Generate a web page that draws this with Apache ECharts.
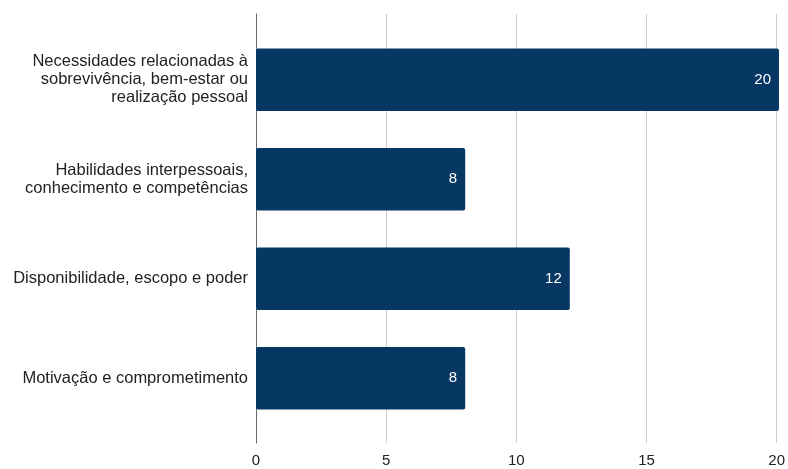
<!DOCTYPE html>
<html>
<head>
<meta charset="utf-8">
<script src="https://cdn.jsdelivr.net/npm/echarts@6/dist/echarts.min.js"></script>
<style>
  html, body { margin: 0; padding: 0; background: #fff; }
  #chart { width: 788px; height: 469px; }
</style>
</head>
<body>
<div id="chart"></div>
<script>
// Categories, top to bottom
const categories = [
  'Necessidades relacionadas à\nsobrevivência, bem-estar ou\nrealização pessoal',
  'Habilidades interpessoais,\nconhecimento e competências',
  'Disponibilidade, escopo e poder',
  'Motivação e comprometimento'
];
const values = [20, 8, 12, 8];
const xTicks = [0, 5, 10, 15, 20];

const FONT = 'Liberation Sans, Arial, sans-serif';
const chart = echarts.init(document.getElementById('chart'));

chart.setOption({
  animation: false,
  grid: [
    // bars
    { left: 256, right: 9, top: 30, bottom: 41 },
    // gridlines, axis line and tick labels
    { left: 256, right: 9, top: 14, bottom: 26 }
  ],
  xAxis: [
    { gridIndex: 0, type: 'value', min: xTicks[0], max: xTicks[xTicks.length - 1], interval: 5,
      show: false },
    { gridIndex: 1, type: 'value', min: xTicks[0], max: xTicks[xTicks.length - 1], interval: 5,
      axisLine: { show: false }, axisTick: { show: false },
      splitLine: { show: true, lineStyle: { color: '#cccccc', width: 1 } },
      axisLabel: { color: '#222', fontSize: 15, fontFamily: FONT, margin: 10 } }
  ],
  yAxis: [
    { gridIndex: 0, type: 'category', inverse: true, data: categories,
      axisLine: { show: false }, axisTick: { show: false },
      axisLabel: { color: '#222', fontSize: 16.5, fontFamily: FONT, margin: 8,
        lineHeight: 18, align: 'right' } },
    { gridIndex: 1, type: 'value', min: 0, max: 1,
      axisLine: { show: true, onZero: false, lineStyle: { color: '#666', width: 1 } },
      axisTick: { show: false }, axisLabel: { show: false }, splitLine: { show: false } }
  ],
  series: [{
    type: 'bar',
    xAxisIndex: 0, yAxisIndex: 0,
    data: values,
    barCategoryGap: '37%',
    itemStyle: { color: '#073763', borderRadius: 2 },
    label: {
      show: true, position: 'insideRight', distance: 8,
      color: '#fff', fontSize: 15, fontFamily: FONT
    },
    z: 3
  }]
});
</script>
</body>
</html>
